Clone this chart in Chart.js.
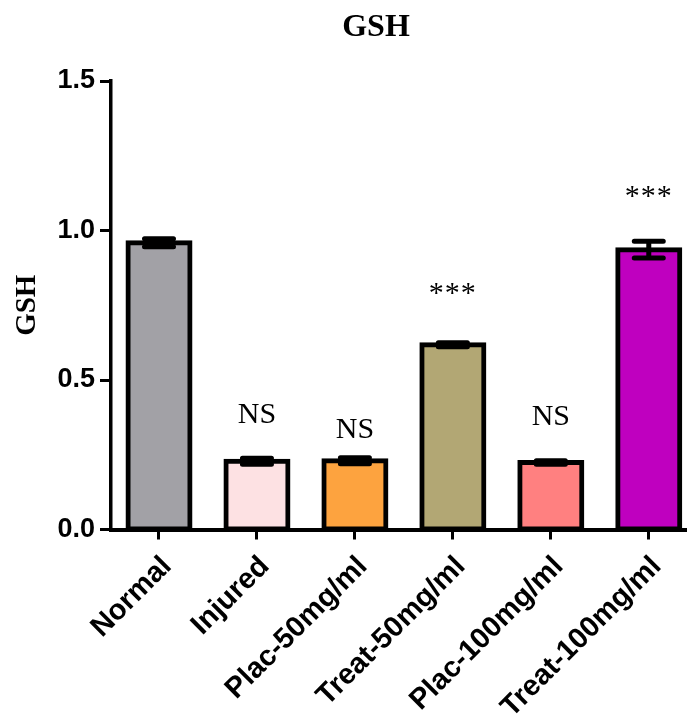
<!DOCTYPE html>
<html>
<head>
<meta charset="utf-8">
<script src="https://cdn.jsdelivr.net/npm/chart.js@4.4.1/dist/chart.umd.min.js"></script>
<style>
  html, body { margin: 0; padding: 0; background: #ffffff; }
  #wrap { width: 692px; height: 715px; position: relative; }
</style>
</head>
<body>
<div id="wrap"><canvas id="chart"></canvas></div>
<script>
// Groups on the x axis
const groups = ['Normal', 'Injured', 'Plac-50mg/ml', 'Treat-50mg/ml', 'Plac-100mg/ml', 'Treat-100mg/ml'];
// Mean GSH per group
const gshMean = [0.959, 0.228, 0.230, 0.618, 0.224, 0.936];
// Standard error per group
const gshErr = [0.013, 0.010, 0.010, 0.007, 0.006, 0.028];
// Significance marks versus the normal group
const sigText = ['', 'NS', 'NS', '***', 'NS', '***'];
// Y-axis tick values
const yTicks = [0.0, 0.5, 1.0, 1.5];

// Bar fills
const barColors = ['#a2a1a6', '#fde1e3', '#fda33f', '#b2a774', '#ff8080', '#bf00bf'];
// Baseline heights (in GSH units) where each significance mark is written
const sigBaseline = [null, 0.356, 0.306, 0.761, 0.350, 1.086];

const serif = '"Liberation Serif", "Times New Roman", Times, serif';
const sans = '"Liberation Sans", Arial, Helvetica, sans-serif';

// Error bars, significance marks and the chart heading
const overlay = {
  id: 'overlay',
  afterDatasetsDraw(chart) {
    const ctx = chart.ctx;
    const xs = chart.scales.x, ys = chart.scales.y;
    ctx.save();
    ctx.strokeStyle = '#000';
    ctx.lineWidth = 5;
    ctx.lineCap = 'round';
    gshMean.forEach((m, i) => {
      const x = xs.getPixelForValue(i);
      const hi = ys.getPixelForValue(m + gshErr[i]);
      const lo = ys.getPixelForValue(m - gshErr[i]);
      ctx.beginPath();
      ctx.moveTo(x, hi); ctx.lineTo(x, lo);
      ctx.moveTo(x - 14.5, hi); ctx.lineTo(x + 14.5, hi);
      ctx.moveTo(x - 14.5, lo); ctx.lineTo(x + 14.5, lo);
      ctx.stroke();
    });
    ctx.fillStyle = '#000';
    ctx.textAlign = 'center';
    ctx.textBaseline = 'alphabetic';
    sigText.forEach((t, i) => {
      if (!t) return;
      const x = xs.getPixelForValue(i);
      const y = ys.getPixelForValue(sigBaseline[i]);
      ctx.font = '30px ' + serif;
      ctx.letterSpacing = t.startsWith('*') ? '1px' : '0px';
      ctx.fillText(t, x, y);
    });
    ctx.letterSpacing = '0px';
    ctx.font = 'bold 32px ' + serif;
    ctx.fillText('GSH', 376, 36);
    ctx.restore();
  }
};

new Chart(document.getElementById('chart'), {
  type: 'bar',
  data: {
    datasets: [{
      data: groups.map((g, i) => ({ x: i, y: gshMean[i] })),
      backgroundColor: barColors,
      borderColor: '#000',
      borderWidth: 5,
      borderSkipped: false,
      inflateAmount: 2.5,
      barThickness: 62
    }]
  },
  options: {
    responsive: true,
    maintainAspectRatio: false,
    animation: false,
    devicePixelRatio: 1,
    layout: { padding: { top: 81, right: 6, left: 0, bottom: 0 } },
    plugins: {
      legend: { display: false },
      tooltip: { enabled: false },
      title: { display: false }
    },
    scales: {
      x: {
        type: 'linear',
        min: -0.49,
        max: 5.38,
        bounds: 'data',
        offset: false,
        afterBuildTicks(scale) {
          scale.ticks = groups.map((g, i) => ({ value: i }));
        },
        afterFit(scale) { scale.height = 185.5; },
        grid: {
          display: true,
          offset: false,
          drawOnChartArea: false,
          drawTicks: true,
          tickLength: 10,
          tickWidth: 3,
          tickColor: '#000'
        },
        border: { display: true, color: '#000', width: 4 },
        ticks: {
          autoSkip: false,
          minRotation: 45,
          maxRotation: 45,
          padding: 10,
          labelOffset: 8,
          color: '#000',
          font: { family: sans, size: 29, weight: 'bold' },
          callback: (v) => groups[v]
        }
      },
      y: {
        min: 0,
        max: 1.5,
        afterBuildTicks(scale) {
          scale.ticks = yTicks.map(v => ({ value: v }));
        },
        afterFit(scale) { scale.width = 111; },
        grid: {
          display: true,
          drawOnChartArea: false,
          drawTicks: true,
          tickLength: 11,
          tickWidth: 3,
          tickColor: '#000'
        },
        border: { display: true, color: '#000', width: 3.5 },
        ticks: {
          padding: 5,
          color: '#000',
          font: { family: sans, size: 27, weight: 'bold' },
          callback: (v) => Number(v).toFixed(1)
        },
        title: {
          display: true,
          text: 'GSH',
          color: '#000',
          font: { family: serif, size: 29, weight: 'bold' },
          padding: { top: 10, bottom: 0 }
        }
      }
    }
  },
  plugins: [overlay]
});
</script>
</body>
</html>
